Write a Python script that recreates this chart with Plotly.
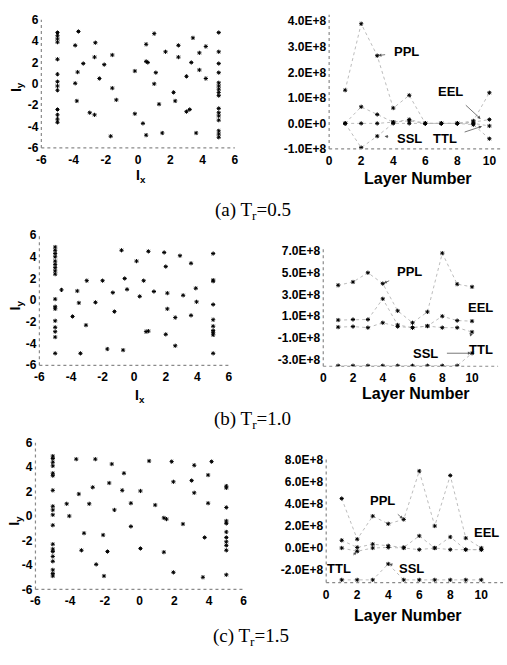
import plotly.graph_objects as go

# ---------------- data ----------------
# left panels: (Ix, Iy) point sets
IX_A = [-5]*13 + [-3.7, -3.9, -2.65, -2.7, -1.6, -3.4, -2.1, -3.75, -3.9, -2.4, -1.6, -3.8, -1.35, -3.0, -2.7, -1.7,
        -0.2, 0.5, 1.0, 0.5, 0.6, 1.1, 1.0, 1.7, 2.5, 2.5, 3.4, 4.2, 3.8, 3.3, 3.8, 3.0, 4.2, 2.2, 2.3, 1.3, 3.0, 3.2,
        -0.2, 0.3, 0.5, 1.5, 3.6] + [5]*16
IY_A = [4.8, 4.5, 4.2, 3.9, 2.3, 0.9, 0.2, -0.2, -0.6, -2.4, -2.9, -3.3, -3.6] + \
       [4.9, 3.6, 3.85, 2.5, 2.7, 1.9, 1.8, 1.1, 0.05, 0.5, -0.4, -1.6, -1.5, -2.7, -2.9, -4.9,
        1.2, 3.7, 4.7, 2.1, 2.0, 1.05, 0.0, 3.0, 3.6, 2.5, 4.3, 3.5, 2.9, 2.0, 1.3, 0.7, 0.5, -0.8, -1.6, -1.9, -2.6, -2.4,
        -2.8, -3.7, -4.8, -4.6, -4.6] + \
       [4.8, 3.0, 1.9, 1.05, 0.1, -0.2, -0.5, -0.8, -1.1, -2.3, -2.7, -3.0, -3.4, -4.4, -4.7, -5.0]

IX_B = [-5]*17 + [-0.8, 0.9, 1.9, 2.9, 3.6, 0.15, 2.0, -3.0, -2.0, -0.6, 0.6, -4.6, -3.6, -1.35, -0.45, 1.25, 2.1, 3.1,
        3.9, 0.35, -3.5, -2.45, 3.95, -1.25, 2.1, -3.9, 2.6, 3.6, -3.05, 0.75, 0.9, 2.0, 2.6, -3.4, -1.7, -0.7] + [5]*10
IY_B = [4.9, 4.6, 4.3, 4.0, 3.6, 3.3, 3.0, 2.7, 2.4, 0.1, -0.6, -0.8, -1.9, -2.5, -2.9, -3.4, -4.9] + \
       [4.6, 4.5, 4.4, 4.1, 3.4, 3.6, 3.1, 1.8, 1.8, 2.0, 1.8, 0.95, 0.85, 0.7, 1.0, 0.8, 0.65, 0.45,
        1.1, 0.35, -0.25, -0.2, -0.15, -1.05, -0.8, -1.5, -1.6, -1.4, -2.3, -2.9, -2.85, -3.15, -4.2, -4.9, -4.5, -4.6] + \
       [4.3, 1.85, 1.75, -0.4, -1.8, -2.4, -2.8, -3.0, -3.2, -4.9]

IX_C = [-5]*19 + [-3.65, -2.55, -1.6, -0.9, 0.55, 1.85, 3.15, 4.15, -2.7, -1.75, -3.5, -1.0, 0.05, 1.95, 3.0, 3.15, 3.95,
        -4.2, -2.9, -0.5, 0.9, 3.95, -4.05, -1.45, 1.4, 1.55, 2.5, -0.5, -3.2, -2.1, 3.75, -3.35, -1.85, 0.05, 1.4,
        -2.5, -2.05, 1.95, 3.65] + [5]*11
IY_C = [4.9, 4.7, 4.4, 4.1, 3.5, 3.3, 2.1, 0.8, 0.5, 0.1, -0.75, -2.3, -2.7, -2.9, -3.3, -3.7, -4.4, -4.7, -4.9] + \
       [4.65, 4.65, 4.25, 3.5, 4.5, 4.45, 4.15, 4.45, 2.35, 2.7, 1.8, 2.1, 2.05, 2.8, 2.9, 1.9, 3.35,
        1.0, 1.0, 1.05, 0.9, 1.05, 0.0, 0.5, -0.15, -0.25, -0.65, -0.85, -1.4, -1.55, -1.75, -2.8, -2.9, -2.65, -2.95,
        -3.95, -4.9, -4.6, -5.0] + \
       [2.45, 2.3, 0.7, -0.4, -0.6, -1.3, -1.75, -2.1, -2.4, -2.8, -4.8]

# right panels: layer-wise values (units of 1E+8)
LAYERS = [1, 2, 3, 4, 5, 6, 7, 8, 9, 10]
A_PPL = [1.3, 3.9, 2.65, 0.6, 1.1, 0.0, 0.0, 0.0, 0.1, 1.2]
A_EEL = [0.0, 0.65, 0.35, 0.05, 0.15, 0.0, 0.0, 0.0, 0.05, 0.15]
A_TTL = [0.0, 0.0, 0.0, 0.05, 0.1, 0.0, 0.0, 0.0, 0.0, -0.1]
A_SSL = [0.0, -0.95, -0.5, 0.0, 0.0, 0.0, 0.0, 0.0, -0.05, -0.6]

B_PPL = [3.85, 4.15, 5.0, 4.0, 1.5, 0.4, 1.4, 6.8, 3.95, 3.7]
B_EEL = [0.65, 0.7, 0.7, 2.6, 0.2, -0.05, 0.1, 1.0, 0.6, 0.55]
B_TTL = [0.0, 0.05, -0.05, 0.4, 0.05, -0.05, 0.1, -0.05, -0.05, -0.45]
B_SSL = [-3.55, -3.55, -3.55, -3.55, -3.55, -3.55, -3.55, -3.55, -3.55, -2.4]

C_PPL = [4.5, 0.8, 2.9, 2.2, 2.6, 7.0, 2.0, 6.6, 0.9, 0.0]
C_EEL = [0.7, 0.05, 0.35, 0.2, 0.05, 1.1, 0.0, 1.0, -0.15, -0.15]
C_TTL = [0.0, -0.3, 0.0, 0.05, 0.0, -0.15, 0.0, -0.15, -0.15, -0.15]
C_SSL = [-2.9, -2.9, -2.9, -1.45, -2.9, -2.9, -2.9, -2.9, -2.9, -2.9]

I_TICKS = [-6, -4, -2, 0, 2, 4, 6]
I_TEXT = ["-6", "-4", "-2", "0", "2", "4", "6"]
LAYER_TICKS = [0, 2, 4, 6, 8, 10]
A_YTICKS = [4, 3, 2, 1, 0, -1]
A_YTEXT = ["4.0E+8", "3.0E+8", "2.0E+8", "1.0E+8", "0.0E+0", "-1.0E+8"]
B_YTICKS = [7, 5, 3, 1, -1, -3]
B_YTEXT = ["7.0E+8", "5.0E+8", "3.0E+8", "1.0E+8", "-1.0E+8", "-3.0E+8"]
C_YTICKS = [8, 6, 4, 2, 0, -2]
C_YTEXT = ["8.0E+8", "6.0E+8", "4.0E+8", "2.0E+8", "0.0E+0", "-2.0E+8"]
CAPTIONS = ["(a) T<sub>r</sub>=0.5", "(b) T<sub>r</sub>=1.0", "(c) T<sub>r</sub>=1.5"]

E8 = 1e8
W, H = 507, 665

fig = go.Figure()

def px_x(p):
    return p / W

def px_y(p):
    return 1 - p / H

TICKFONT = dict(family="Liberation Sans", size=12, color="black", weight="bold")
DOT = "#8a8a8a"
MARK = dict(symbol="asterisk-open", size=3.5, color="black", line=dict(width=1, color="black"))

# panel geometry (pixel based)
left_panels = [  # (xl, xr, ytop, ybottom)
    (37, 234, 13, 144),
    (35, 228, 233, 366),
    (31, 243, 445, 595),
]
right_panels = [  # (x0px, xendpx, xmax, ytop, ybot, ymin, ymax)
    (330, 507, 10.85, 8, 145, -1.0, 4.25),
    (324, 502, 11.75, 247, 367, -3.6, 7.2),
    (327, 507, 11.4, 460, 588, -3.15, 8.25),
]

left_data = [(IX_A, IY_A), (IX_B, IY_B), (IX_C, IY_C)]
right_data = [(A_PPL, A_EEL, A_TTL, A_SSL), (B_PPL, B_EEL, B_TTL, B_SSL), (C_PPL, C_EEL, C_TTL, C_SSL)]
right_ticks = [(A_YTICKS, A_YTEXT), (B_YTICKS, B_YTEXT), (C_YTICKS, C_YTEXT)]

shapes = []
layout_axes = {}
for i in range(3):
    # left scatter
    k = 2 * i + 1
    xl, xr, yt, yb = left_panels[i]
    ix, iy = left_data[i]
    fig.add_trace(go.Scatter(x=ix, y=iy, mode="markers", xaxis=f"x{k}", yaxis=f"y{k}",
                             marker=MARK, showlegend=False))
    layout_axes[f"xaxis{k}"] = dict(domain=[px_x(xl), px_x(xr)], range=[-6, 6], anchor=f"y{k}",
                                    tickvals=I_TICKS, ticktext=I_TEXT, tickfont=TICKFONT, showgrid=False,
                                    zeroline=False, showline=False, ticks="", ticklen=0, ticklabelstandoff=3)
    layout_axes[f"yaxis{k}"] = dict(domain=[px_y(yb), px_y(yt)], range=[-6, 6], anchor=f"x{k}",
                                    tickvals=I_TICKS, ticktext=I_TEXT, tickfont=TICKFONT, showgrid=False,
                                    zeroline=False, showline=False, ticks="", ticklen=0, ticklabelstandoff=2)
    # right line chart
    k2 = 2 * i + 2
    x0, xe, xmax, yt2, yb2, ymin, ymax = right_panels[i]
    for series in right_data[i]:
        fig.add_trace(go.Scatter(x=LAYERS, y=[v * E8 for v in series], mode="lines+markers",
                                 xaxis=f"x{k2}", yaxis=f"y{k2}",
                                 line=dict(color="#b4b4b4", width=0.9, dash="dot"),
                                 marker=MARK, showlegend=False))
    tv, tt = right_ticks[i]
    layout_axes[f"xaxis{k2}"] = dict(domain=[px_x(x0), px_x(xe)], range=[0, xmax], anchor=f"y{k2}",
                                     tickvals=LAYER_TICKS, tickfont=TICKFONT, showgrid=False, zeroline=False,
                                     showline=False, ticks="", ticklen=0, ticklabelstandoff=3)
    layout_axes[f"yaxis{k2}"] = dict(domain=[px_y(yb2), px_y(yt2)], range=[ymin * E8, ymax * E8], anchor=f"x{k2}",
                                     tickvals=[v * E8 for v in tv], ticktext=tt, tickfont=TICKFONT,
                                     showgrid=False, zeroline=False, showline=False, ticks="", ticklen=0,
                                     ticklabelstandoff=2)
    for kk in (k, k2):
        xr_ = "x domain" if kk == 1 else f"x{kk} domain"
        yr_ = "y domain" if kk == 1 else f"y{kk} domain"
        shapes.append(dict(type="line", xref=xr_, yref=yr_, x0=0, x1=1, y0=0, y1=0,
                           line=dict(color=DOT, width=1.2, dash="dot")))
        shapes.append(dict(type="line", xref=xr_, yref=yr_, x0=0, x1=0, y0=0, y1=1,
                           line=dict(color=DOT, width=1.2, dash="dot")))

annotations = []

def paper_text(text, xp, yp, size=14, angle=0, family="Liberation Sans", weight="bold"):
    annotations.append(dict(text=text, x=px_x(xp), y=px_y(yp), xref="paper", yref="paper",
                            showarrow=False, textangle=angle, xanchor="center", yanchor="middle",
                            font=dict(family=family, size=size, color="black", weight=weight)))

# axis titles
paper_text("I<sub>x</sub>", 138, 173)
paper_text("I<sub>x</sub>", 137, 397)
paper_text("I<sub>y</sub>", 12, 82, angle=-90)
paper_text("I<sub>y</sub>", 11, 305, angle=-90)
paper_text("I<sub>y</sub>", 10, 525, angle=-90)
paper_text("Layer Number", 420, 175, size=16)
paper_text("Layer Number", 418, 395, size=16)
paper_text("Layer Number", 410, 622, size=16)
# captions
paper_text(CAPTIONS[0], 252, 208, size=19, family="Liberation Serif", weight="normal")
paper_text(CAPTIONS[1], 252, 422, size=19, family="Liberation Serif", weight="normal")
paper_text(CAPTIONS[2], 250, 644, size=19, family="Liberation Serif", weight="normal")

def callout(k, text, tx, ty, px, py):
    annotations.append(dict(text=text, x=px, y=py * E8, ax=tx, ay=ty * E8,
                            xref=f"x{k}", yref=f"y{k}", axref=f"x{k}", ayref=f"y{k}",
                            showarrow=True, arrowhead=2, arrowsize=0.8, arrowwidth=0.8,
                            arrowcolor="#555", standoff=1, startstandoff=7,
                            font=dict(family="Liberation Sans", size=13, color="black", weight="bold")))

callout(2, "PPL", 4.8, 2.8, 3, 2.65)
callout(2, "EEL", 7.6, 1.25, 9.5, 0.15)
callout(2, "SSL", 5.0, -0.6, 3.4, -0.5)
callout(2, "TTL", 7.2, -0.6, 9.6, -0.1)

callout(4, "PPL", 5.8, 5.1, 4, 4.0)
callout(4, "EEL", 10.6, 1.8, 9.7, 0.55)
callout(4, "TTL", 10.6, -2.1, 9.8, -0.45)
callout(4, "SSL", 6.9, -2.4, 10, -2.4)

callout(6, "PPL", 3.6, 4.3, 5, 2.6)
callout(6, "EEL", 10.35, 1.45, 9, 0.9)
callout(6, "TTL", 0.8, -1.9, 2, -0.3)
callout(6, "SSL", 5.5, -1.9, 4, -1.45)

fig.update_layout(width=W, height=H, margin=dict(l=0, r=0, t=0, b=0),
                  paper_bgcolor="white", plot_bgcolor="white",
                  shapes=shapes, annotations=annotations, showlegend=False, **layout_axes)

fig.write_html("out.html", config={"displayModeBar": False},
               post_script="document.body.style.margin='0';document.body.style.padding='0';")
